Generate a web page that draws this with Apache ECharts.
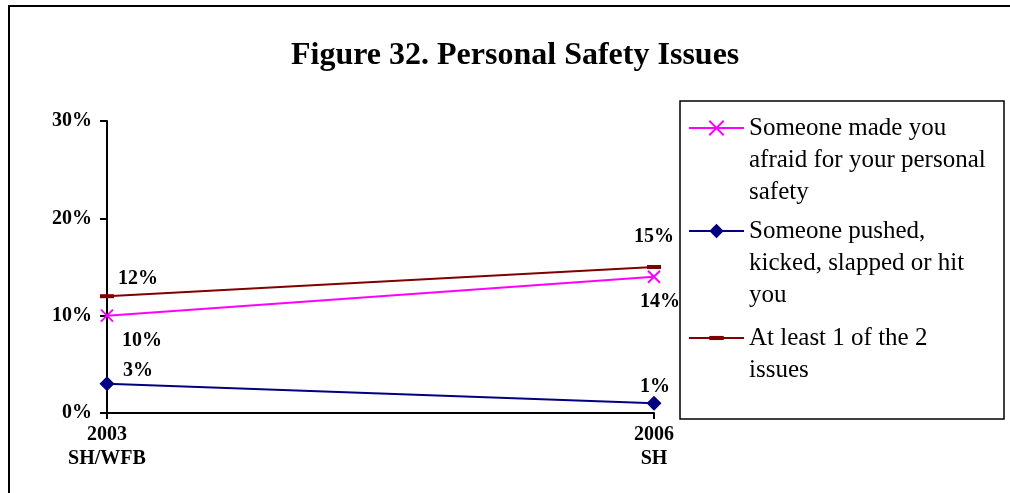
<!DOCTYPE html>
<html>
<head>
<meta charset="utf-8">
<script src="https://cdn.jsdelivr.net/npm/echarts@6/dist/echarts.min.js"></script>
<style>html,body{margin:0;padding:0;background:#fff;}#c{width:1010px;height:493px;}</style>
</head>
<body>
<div id="c"></div>
<script>
const titleText = 'Figure 32. Personal Safety Issues';
const categories = ['2003\nSH/WFB', '2006\nSH'];
const yTicks = [0, 10, 20, 30];
const seriesNames = [
  'Someone made you afraid for your personal safety',
  'Someone pushed, kicked, slapped or hit you',
  'At least 1 of the 2 issues'
];
const legendLines = [
  ['Someone made you', 'afraid for your personal', 'safety'],
  ['Someone pushed,', 'kicked, slapped or hit', 'you'],
  ['At least 1 of the 2', 'issues']
];
const afraidValues = [10, 14];
const pushedValues = [3, 1];
const atLeastValues = [12, 15];

const serif = 'Liberation Serif';
const chart = echarts.init(document.getElementById('c'));

function lbl(dx, dy) {
  return { show: true, position: 'inside', offset: [dx, dy], formatter: '{c}%',
    fontFamily: serif, fontWeight: 'bold', fontSize: 20, color: '#000' };
}

const colors = ['#FF00FF', '#000080', '#800000'];
const labelOffsets = [
  [[35, 25], [6, 25]],
  [[31, -13], [1, -16]],
  [[31, -17], [0, -30]]
];
const values = [afraidValues, pushedValues, atLeastValues];
const symbols = [
  'path://M0,0L10,10M0,10L10,0',
  'diamond',
  'path://M0,0M14,14M0,5L14,5L14,9L0,9Z'
];
const symbolSizes = [12, 15, 14];

const series = values.map((vals, i) => ({
  name: seriesNames[i],
  type: 'line',
  data: vals.map((v, j) => ({ value: v, label: lbl(labelOffsets[i][j][0], labelOffsets[i][j][1]) })),
  symbol: symbols[i],
  symbolSize: symbolSizes[i],
  showSymbol: true,
  lineStyle: { color: colors[i], width: 2 },
  itemStyle: i === 0 ? { color: colors[i], borderColor: colors[i], borderWidth: 2 } : { color: colors[i] },
  z: 3 - i,
  animation: false
}));

const legendTops = [48, 151, 290];
const legends = seriesNames.map((n, i) => ({
  data: [n],
  orient: 'vertical',
  left: 688,
  top: legendTops[i],
  padding: 0,
  itemWidth: 55,
  itemHeight: 18,
  selectedMode: false,
  textStyle: { fontFamily: serif, fontSize: 25, lineHeight: 32, color: '#000' },
  formatter: () => '\n'.repeat(legendLines[i].length - 1) + legendLines[i].join('\n')
}));

chart.setOption({
  animation: false,
  backgroundColor: '#fff',
  title: {
    text: titleText,
    left: 291, top: 40, padding: 0,
    textStyle: { fontFamily: serif, fontWeight: 'bold', fontSize: 32, color: '#000' }
  },
  legend: legends,
  grid: { left: 107, right: 356, top: 121, bottom: 80, containLabel: false },
  xAxis: {
    type: 'category', data: categories, boundaryGap: false,
    axisLine: { lineStyle: { color: '#000', width: 2 } },
    axisTick: { show: true, length: 6, lineStyle: { color: '#000', width: 2 } },
    axisLabel: { fontFamily: serif, fontWeight: 'bold', fontSize: 20, color: '#000', lineHeight: 24, margin: 10 },
    splitLine: { show: false }
  },
  yAxis: {
    type: 'value', min: yTicks[0], max: yTicks[yTicks.length - 1], interval: 10,
    axisLine: { show: true, lineStyle: { color: '#000', width: 2 } },
    axisTick: { show: true, length: 7, lineStyle: { color: '#000', width: 2 } },
    axisLabel: { formatter: '{value}%', fontFamily: serif, fontWeight: 'bold', fontSize: 20, color: '#000', margin: 15 },
    splitLine: { show: false }
  },
  graphic: [
    { type: 'rect', shape: { x: 9, y: 6, width: 1100, height: 600 }, style: { fill: 'none', stroke: '#000', lineWidth: 2 }, z: -1, silent: true },
    { type: 'rect', shape: { x: 680, y: 101, width: 324, height: 318 }, style: { fill: 'none', stroke: '#000', lineWidth: 1.5 }, z: -1, silent: true }
  ],
  series: series
});
</script>
</body>
</html>
